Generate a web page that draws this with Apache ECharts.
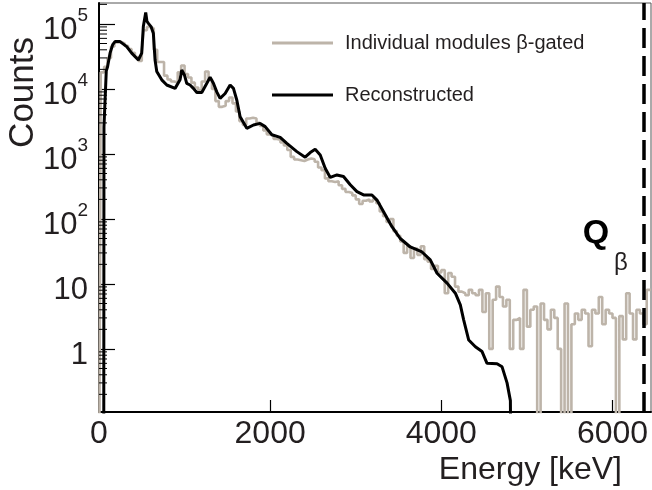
<!DOCTYPE html>
<html><head><meta charset="utf-8">
<script src="https://cdn.jsdelivr.net/npm/echarts@6/dist/echarts.min.js"></script>
<style>html,body{margin:0;padding:0;background:#fff}#c{width:652px;height:490px}</style>
</head><body><div id="c"></div>
<script>
// ---- data ----
// "Individual modules β-gated" histogram: lower bin edges (keV) and counts
const gatedEdges = [0,20,60,100,140,180,220,260,300,340,380,420,460,500,520,560,600,640,680,720,760,800,840,880,920,960,1000,1040,1080,1120,1160,1200,1240,1280,1320,1360,1400,1440,1480,1520,1560,1600,1640,1680,1720,1760,1800,1840,1880,1920,1960,2000,2040,2080,2120,2160,2200,2240,2280,2320,2360,2400,2440,2480,2520,2560,2600,2640,2680,2720,2760,2800,2840,2880,2920,2960,3000,3040,3080,3120,3160,3200,3240,3280,3320,3360,3400,3440,3480,3520,3560,3600,3640,3680,3720,3760,3800,3840,3880,3920,3960,
4000,4040,4080,4120,4160,4200,4240,4280,4320,4360,4400,4440,4480,4520,4560,4600,4640,4680,4720,4760,4800,4840,4880,4920,4960,5000,5040,5080,5120,5160,5200,5240,
5280,5320,5360,5400,5440,5480,5520,5560,5600,5640,5680,5720,5760,5800,5840,5880,5920,5960,6000,6040,6080,6120,6160,6200,6240,6280,6320,6360,6400];
const gatedCounts = [0,18000,22000,30000,45000,52000,53000,50000,46000,41000,36000,31000,27000,37000,80000,90000,85000,40000,26000,26000,16000,14000,13000,12500,18000,23000,17000,15000,12500,10500,9500,13000,18500,14000,10000,6500,5300,5500,6500,7400,6000,4500,3200,2800,3500,3600,3500,3000,2700,2300,2000,1900,1700,1650,1500,1350,1150,900,820,800,780,820,850,830,760,620,560,420,380,370,380,330,290,260,250,230,200,170,190,200,185,200,175,130,110,90,100,65,55,45,30,38,25,35,28,38,24,22,17,19,15,
16.4,7.2,14.7,12.9,9.1,7.6,7.2,6.7,8.1,7.2,6.7,8.1,3.7,7.2,1.0,5.7,9.1,6.3,4.5,5.7,1.0,2.8,3.0,1.0,8.1,2.2,4.0,4.5,0,5.0,2.8,2.0,
4.0,3.0,1.0,0,5.0,0,2.4,3.5,2.8,4.0,3.5,1.1,4.0,3.5,6.3,2.4,4.0,3.5,3.0,0,3.2,1.4,7.2,3.5,1.4,4.0,3.5,2.4,8.1];
const gatedLastEdge = 6450;

// "Reconstructed" spectrum: energy (keV) and counts
const recoEnergy = [0,55,58,75,85,100,129,160,187,246,324,382,460,499,518,546,560,577,608,635,655,675,733,792,889,947,967,998,1025,1064,1103,1143,1201,1260,1298,1337,1376,1415,1474,1532,1571,1610,1649,1727,1805,1883,1942,2020,2117,2195,2312,2409,2468,2526,2585,2643,2702,2780,2857,2936,3014,3091,3189,3248,3325,3423,3520,3637,3774,3871,3950,4067,4164,4222,4261,4320,4398,4476,4534,4651,4710,4768,4807,4820,6450];
const recoCounts = [0,0,2600,2600,19000,22000,35500,48000,53500,53500,44700,35500,27900,35500,91000,150000,110000,102000,91000,72000,27900,18500,13800,11500,10200,13800,19500,16400,12200,11500,10200,8800,8800,12200,15100,12200,9000,7150,8500,11500,10200,6750,3740,2480,2790,2950,2630,1970,1800,1450,1085,890,1050,1180,965,600,435,475,450,335,263,234,234,195,129,76,50,37,31,23.4,14.6,10.3,7.2,4.75,2.8,1.37,1.08,0.91,0.6,0.59,0.53,0.30,0.16,0,0];

const xTickValues = [0, 2000, 4000, 6000];
const yDecades = [-1, 0, 1, 2, 3, 4, 5];          // log10 of major ticks
const yMinorMultipliers = [2, 3, 4, 5, 6, 7, 8, 9]; // minor ticks inside each decade
const seriesNames = ['Individual modules \u03b2-gated', 'Reconstructed'];
const qBetaEnergy = 6370;
const xRange = [0, 6450];
const yRange = [0.107, 210000];

// ---- build chart ----
const FLOOR = 1e-3; // empty bins fall below the frame and are clipped
const fl = v => (v > 0 ? v : FLOOR);
const gatedData = gatedEdges.map((e, i) => [e, fl(gatedCounts[i])]);
gatedData.push([gatedLastEdge, fl(gatedCounts[gatedCounts.length - 1])]);
const recoData = recoEnergy.map((e, i) => [e, fl(recoCounts[i])]);
const minorTicks = [];
yDecades.forEach(d => yMinorMultipliers.forEach(m => {
  const v = m * Math.pow(10, d);
  if (v > yRange[0] && v < yRange[1]) minorTicks.push([xRange[0], v]);
}));

const FONT = '"Liberation Sans", Arial, Helvetica, sans-serif';
const TXT = '#231f20';
const GRAY = '#bdb4a9';

const chart = echarts.init(document.getElementById('c'), null, {renderer: 'canvas'});
chart.setOption({
  animation: false,
  backgroundColor: '#fff',
  grid: {left: 99, right: 1, top: 3, bottom: 78, show: true, borderColor: '#555', borderWidth: 1},
  legend: {
    orient: 'vertical', left: 267, top: 26, itemWidth: 61, itemHeight: 3, itemGap: 28,
    data: [{name: seriesNames[0], icon: 'rect'}, {name: seriesNames[1], icon: 'rect'}],
    textStyle: {fontFamily: FONT, fontSize: 20, lineHeight: 24, color: TXT, padding: [0, 0, 0, 7]}
  },
  xAxis: {
    type: 'value', min: xRange[0], max: xRange[1], interval: 2000,
    axisLine: {lineStyle: {color: '#000', width: 2}},
    axisTick: {inside: true, length: 12, lineStyle: {color: '#000', width: 1.2}},
    splitLine: {show: false},
    axisLabel: {
      fontFamily: FONT, fontSize: 32, color: TXT, margin: 6, showMaxLabel: false,
      formatter: v => (xTickValues.indexOf(v) >= 0 ? String(v) : '')
    }
  },
  yAxis: {
    type: 'log', logBase: 10, min: yRange[0], max: yRange[1],
    axisLine: {lineStyle: {color: '#000', width: 2}},
    axisTick: {inside: true, length: 16, lineStyle: {color: '#000', width: 1.2}},
    splitLine: {show: false},
    axisLabel: {
      margin: 11, showMaxLabel: false, showMinLabel: false, padding: [5, 0, 0, 0],
      formatter: v => {
        const e = Math.round(Math.log10(v));
        if (e < 0 || Math.abs(v - Math.pow(10, e)) > 1e-6 * v) return '';
        if (e === 0) return '{b|1}';
        if (e === 1) return '{b|10}';
        return '{b|10}{s|' + e + '}';
      },
      rich: {
        b: {fontFamily: FONT, fontSize: 31, color: TXT, lineHeight: 40, verticalAlign: 'bottom'},
        s: {fontFamily: FONT, fontSize: 19, color: TXT, lineHeight: 20, verticalAlign: 'top'}
      }
    }
  },
  series: [
    {
      name: seriesNames[0], type: 'line', step: 'end', data: gatedData,
      symbol: 'none', showSymbol: false, clip: true,
      lineStyle: {color: GRAY, width: 2.6}, itemStyle: {color: GRAY}
    },
    {
      name: seriesNames[1], type: 'line', data: recoData,
      symbol: 'none', showSymbol: false, clip: true,
      lineStyle: {color: '#000', width: 3}, itemStyle: {color: '#000'},
      markLine: {
        silent: true, symbol: ['none', 'none'], label: {show: false},
        lineStyle: {color: '#000', width: 3.5, type: [20, 8]},
        data: [{xAxis: qBetaEnergy}]
      }
    },
    {
      name: 'minorTicks', type: 'custom', silent: true, clip: true, z: 5,
      data: minorTicks,
      renderItem: (params, api) => {
        const p = api.coord([api.value(0), api.value(1)]);
        return {type: 'line', shape: {x1: p[0], y1: p[1], x2: p[0] + 8, y2: p[1]},
                style: {stroke: '#000', lineWidth: 1}};
      }
    }
  ],
  graphic: [
    {type: 'text', x: 23, y: 37, rotation: Math.PI / 2,
     style: {text: 'Counts', font: '35px ' + FONT, fill: TXT, align: 'right', verticalAlign: 'middle'}},
    {type: 'text', x: 622, y: 470,
     style: {text: 'Energy [keV]', font: '32px ' + FONT, fill: TXT, align: 'right', verticalAlign: 'middle'}},
    {type: 'text', x: 596, y: 234,
     style: {text: 'Q', font: 'bold 34px ' + FONT, fill: '#000', align: 'center', verticalAlign: 'middle'}},
    {type: 'text', x: 621, y: 263,
     style: {text: '\u03b2', font: '24px ' + FONT, fill: TXT, align: 'center', verticalAlign: 'middle'}}
  ]
});
</script></body></html>
